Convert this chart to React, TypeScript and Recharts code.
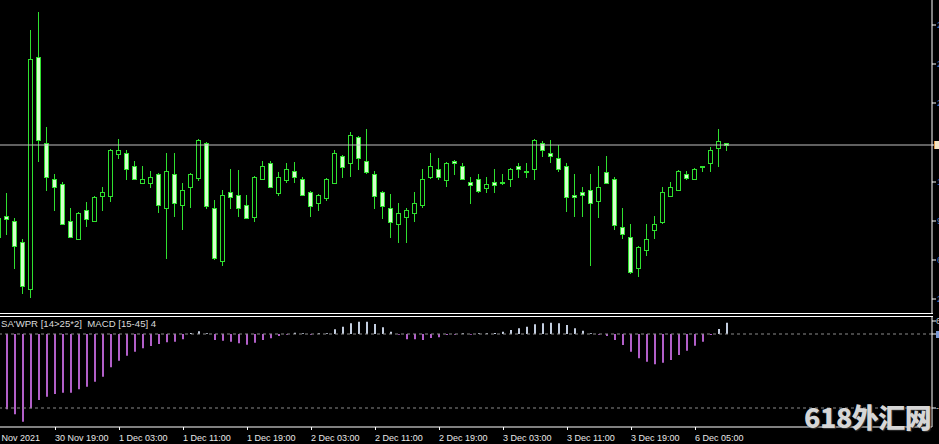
import React from 'react';
import { ComposedChart, Bar, XAxis, YAxis, ReferenceLine, Cell } from 'recharts';

// bar index (-1 is the partly hidden bar at the left edge)
const barIndex = [-1, 0, 1, 2, 3, 4, 5, 6, 7, 8, 9, 10, 11, 12, 13, 14, 15, 16, 17, 18, 19, 20, 21, 22, 23, 24, 25, 26, 27, 28, 29, 30, 31, 32, 33, 34, 35, 36, 37, 38, 39, 40, 41, 42, 43, 44, 45, 46, 47, 48, 49, 50, 51, 52, 53, 54, 55, 56, 57, 58, 59, 60, 61, 62, 63, 64, 65, 66, 67, 68, 69, 70, 71, 72, 73, 74, 75, 76, 77, 78, 79, 80, 81, 82, 83, 84, 85, 86, 87, 88, 89, 90];
const opens = [83, 104, 99, 78, 31, 263, 177, 141, 136, 99, 81, 110, 99, 124, 124, 166, 167, 154, 137, 137, 146, 112, 146, 115, 133, 142, 177, 112, 59, 128, 125, 115, 103, 141, 157, 127, 140, 149, 141, 128, 117, 122, 137, 164, 157, 183, 159, 146, 128, 112, 96, 103, 107, 115, 143, 151, 140, 159, 154, 138, 141, 132, 138, 138, 141, 154, 149, 151, 177, 167, 162, 154, 125, 128, 130, 119, 148, 141, 93, 83, 52, 70, 90, 98, 124, 130, 146, 141, 154, 157, 172, 177];
const highs = [106, 127, 102, 81, 290, 308, 193, 146, 138, 112, 108, 118, 124, 133, 171, 181, 170, 159, 154, 149, 147, 167, 167, 137, 147, 181, 178, 120, 130, 151, 150, 125, 144, 159, 159, 148, 157, 158, 143, 129, 126, 142, 170, 165, 188, 184, 191, 149, 129, 126, 117, 112, 128, 151, 167, 162, 158, 160, 157, 143, 146, 143, 151, 146, 152, 157, 157, 181, 179, 180, 175, 157, 146, 133, 146, 154, 164, 143, 112, 96, 74, 96, 104, 133, 138, 150, 149, 152, 154, 173, 191, 177];
const lows = [80, 85, 51, 26, 22, 158, 129, 109, 95, 82, 80, 93, 98, 109, 118, 161, 140, 140, 136, 132, 107, 61, 103, 90, 112, 139, 111, 60, 54, 111, 103, 101, 98, 140, 132, 124, 137, 137, 124, 103, 109, 119, 136, 142, 143, 150, 146, 111, 101, 82, 77, 77, 98, 112, 141, 140, 133, 145, 140, 116, 127, 127, 127, 135, 133, 142, 142, 140, 163, 157, 148, 108, 103, 103, 54, 102, 136, 90, 81, 46, 43, 64, 81, 96, 123, 129, 140, 140, 148, 148, 153, 169];
const closes = [102, 101, 74, 34, 261, 180, 143, 133, 96, 83, 107, 101, 123, 128, 170, 170, 151, 141, 141, 143, 115, 149, 117, 130, 146, 180, 114, 62, 125, 123, 112, 102, 143, 154, 133, 143, 151, 143, 125, 114, 125, 141, 167, 153, 185, 162, 148, 124, 114, 98, 107, 110, 117, 141, 154, 143, 157, 157, 141, 135, 129, 136, 135, 137, 151, 151, 148, 180, 170, 164, 151, 123, 123, 125, 117, 133, 137, 95, 86, 48, 73, 81, 96, 128, 133, 149, 142, 151, 153, 170, 179, 175];

// oscillator histogram, bars 0..90
const histIndex = [0, 1, 2, 3, 4, 5, 6, 7, 8, 9, 10, 11, 12, 13, 14, 15, 16, 17, 18, 19, 20, 21, 22, 23, 24, 25, 26, 27, 28, 29, 30, 31, 32, 33, 34, 35, 36, 37, 38, 39, 40, 41, 42, 43, 44, 45, 46, 47, 48, 49, 50, 51, 52, 53, 54, 55, 56, 57, 58, 59, 60, 61, 62, 63, 64, 65, 66, 67, 68, 69, 70, 71, 72, 73, 74, 75, 76, 77, 78, 79, 80, 81, 82, 83, 84, 85, 86, 87, 88, 89, 90];
const histValues = [
  -75.3, -80.3, -87.7, -74.3, -66, -62.7, -60, -58.7, -58.7, -55.3,
  -52.7, -47.7, -42.7, -33.3, -26.7, -21.7, -17.7, -14.3, -12, -10,
  -8.3, -7.7, -5.3, 1, 2.7, 0.7, -6, -6.7, -7.7, -9.3,
  -10.7, -8.7, -6, -4.3, -2, -0.7, 1.3, 0.7, -0.7, 0.7,
  0.7, 4.7, 7.3, 10.7, 12.3, 12.3, 10, 6.7, 2.3, -0.7,
  -5.3, -5.3, -6, -4, -3.3, -1, -0.7, 0.7, -0.7, 0.7,
  0.7, 1, 2.3, 4, 5.7, 7.3, 9.7, 10.7, 11.3, 10.7,
  9, 5.7, 3.3, 0.7, -0.7, -2, -6, -11, -17.7, -24.3,
  -27.7, -30.3, -28.7, -26, -21, -16.7, -11.7, -7.7, -1, 5,
  11.3,
];

const timeTickIndex = [-0.875, 6, 14, 22, 30, 38, 46, 54, 62, 70, 78, 86];
const timeTickLabels = ['30 Nov 2021', '30 Nov 19:00', '1 Dec 03:00', '1 Dec 11:00', '1 Dec 19:00', '2 Dec 03:00', '2 Dec 11:00', '2 Dec 19:00', '3 Dec 03:00', '3 Dec 11:00', '3 Dec 19:00', '6 Dec 05:00'];
const priceTicks = [295, 256, 217, 175, 138, 99, 60, 21];
const lastPrice = 175;
const subTicks = [13, 0, -74];
const subLevel = -74;
const indicatorTitle = "SA'WPR [14>25*2]  MACD [15-45] 4";
const watermark = '618外汇网';

const candles = barIndex.map((i, k) => ({ i, o: opens[k], h: highs[k], l: lows[k], c: closes[k] }));
const hist = histIndex.map((i, k) => ({ i, v: histValues[k] }));

const GREEN = '#2fe02f';
const BEAR_FILL = '#d4ffcc';
const POS = '#c4cee0';
const NEG = '#b25fc9';
const FONT = "'Liberation Sans', Arial, sans-serif";
const X_DOMAIN: [number, number] = [-0.875, 115.625];

const Candle = (props: any) => {
  const { x, y, width, height, payload } = props;
  if (!payload || x == null) return null;
  const { o, h, l, c } = payload;
  const top = Math.min(y, y + height);
  const bot = Math.max(y, y + height);
  const k = (bot - top) / (h - l);
  const cx = Math.floor(x + width / 2) + 0.5;
  const bt = Math.round(top + (h - Math.max(o, c)) * k);
  const bb = Math.round(top + (h - Math.min(o, c)) * k);
  const bull = c >= o;
  return (
    <g>
      <line x1={cx} x2={cx} y1={Math.round(top)} y2={Math.round(bot)} stroke={GREEN} strokeWidth={1} />
      <rect x={cx - 2} y={bt + 0.5} width={4} height={Math.max(bb - bt, 1)} fill={bull ? '#000000' : BEAR_FILL} stroke={GREEN} strokeWidth={1} />
    </g>
  );
};

const PriceTick = (props: any) => {
  const { x, y, payload } = props;
  if (payload.value === lastPrice) {
    return (
      <g>
        <rect x={x - 3} y={y - 4} width={10} height={8} fill="#f3e4c6" />
        <rect x={x - 3} y={y - 4} width={1} height={8} fill="#e09a48" />
      </g>
    );
  }
  return (
    <text x={x} y={y} dy={3} fontSize={9} fontFamily={FONT} fill="#4d7fc0">{payload.value}</text>
  );
};

const SubTick = (props: any) => {
  const { x, y, payload } = props;
  if (payload.value === 0) {
    return <rect x={x - 1} y={y - 3} width={4} height={7} fill="#7c9ad6" />;
  }
  return (
    <text x={x - 1} y={y} dy={3} fontSize={9} fontFamily={FONT} fill="#d0d0d0">{payload.value === 13 ? '6.2' : '-' + String(Math.abs(payload.value))}</text>
  );
};

const TimeTick = (props: any) => {
  const { x, y, index } = props;
  const first = index === 0;
  return (
    <g>
      {!first && <line x1={Math.floor(x) + 0.5} x2={Math.floor(x) + 0.5} y1={y} y2={y + 3} stroke="#ffffff" />}
      <text x={first ? x - 11 : x} y={y + 14} fontSize={9} fontFamily={FONT} fill="#e8e8e8">{timeTickLabels[index]}</text>
    </g>
  );
};

export default function App() {
  return (
    <div style={{ position: 'absolute', left: 0, top: 0, width: 939, height: 444, background: '#000', overflow: 'hidden' }}>
      <div style={{ position: 'absolute', left: 0, top: 0 }}>
        <ComposedChart width={939} height={313} data={candles} margin={{ top: 0, right: 0, bottom: 0, left: 0 }}>
          <XAxis type="number" dataKey="i" domain={X_DOMAIN} allowDataOverflow hide ticks={timeTickIndex} />
          <YAxis
            orientation="right"
            type="number"
            domain={[7, 320]}
            allowDataOverflow
            width={7}
            ticks={priceTicks}
            interval={0}
            axisLine={{ stroke: '#ffffff' }}
            tickLine={{ stroke: '#ffffff' }}
            tickSize={4}
            tickMargin={1}
            tick={<PriceTick />}
          />
          <ReferenceLine y={lastPrice} stroke="#c0c0c0" strokeWidth={1} ifOverflow="extendDomain" />
          <Bar dataKey={(d: any) => [d.l, d.h]} barSize={5} shape={<Candle />} isAnimationActive={false} />
        </ComposedChart>
      </div>
      <div style={{ position: 'absolute', left: 0, top: 313, width: 933, height: 1, background: '#ffffff' }} />
      <div style={{ position: 'absolute', left: 0, top: 316, width: 933, height: 1, background: '#ffffff' }} />
      <div style={{ position: 'absolute', left: 0, top: 316 }}>
        <ComposedChart width={939} height={128} data={hist} margin={{ top: 0, right: 0, bottom: 0, left: 0 }}>
          <XAxis
            type="number"
            dataKey="i"
            domain={X_DOMAIN}
            allowDataOverflow
            height={17}
            ticks={timeTickIndex}
            interval={0}
            axisLine={{ stroke: '#ffffff' }}
            tickLine={false}
            tickSize={0}
            tickMargin={0}
            tick={<TimeTick />}
          />
          <YAxis
            orientation="right"
            type="number"
            domain={[-93, 18]}
            allowDataOverflow
            width={7}
            ticks={subTicks}
            interval={0}
            axisLine={{ stroke: '#ffffff' }}
            tickLine={{ stroke: '#ffffff' }}
            tickSize={4}
            tickMargin={1}
            tick={<SubTick />}
          />
          <ReferenceLine y={0} stroke="#8a8a8a" strokeDasharray="3 3" />
          <ReferenceLine y={subLevel} stroke="#8a8a8a" strokeDasharray="3 3" />
          <Bar dataKey="v" barSize={2} isAnimationActive={false}>
            {hist.map((d) => (
              <Cell key={d.i} fill={d.v >= 0 ? POS : NEG} />
            ))}
          </Bar>
        </ComposedChart>
      </div>
      <div style={{ position: 'absolute', left: 1, top: 318, fontFamily: FONT, fontSize: 9.6, lineHeight: '12px', color: '#dcdcdc', whiteSpace: 'pre' }}>
        {indicatorTitle}
      </div>
      <div style={{ position: 'absolute', left: 804, top: 401, fontFamily: "'Noto Sans CJK SC', sans-serif", fontWeight: 900, fontSize: 27, lineHeight: '31px', color: '#d6d6d6', textShadow: '1px 1px 1px #333', whiteSpace: 'pre', letterSpacing: '-0.5px' }}>
        {watermark}
      </div>
    </div>
  );
}
